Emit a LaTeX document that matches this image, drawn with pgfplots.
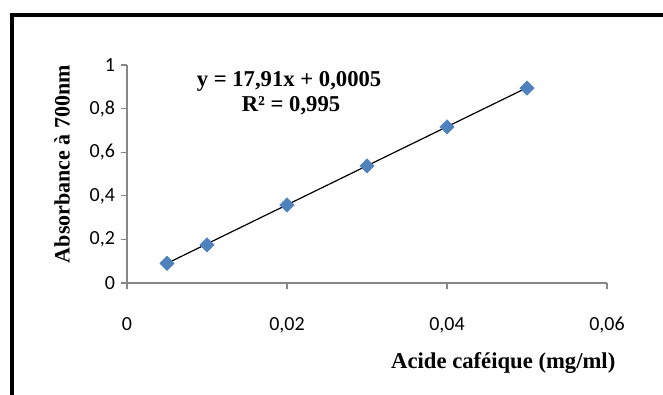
\documentclass[border=0pt]{standalone}
\usepackage{pgfplots}
\pgfplotsset{compat=1.18}
\usepackage{fontspec}
\setmainfont{Liberation Serif}
\newfontfamily\tickfont{Carlito}
\definecolor{mk}{HTML}{4F81BD}
\definecolor{ax}{HTML}{878787}
\begin{document}
\begin{tikzpicture}
\useasboundingbox (0,0) rectangle (497.25pt,295.5pt);
\fill[white] (0,0) rectangle (497.25pt,295.5pt);
\draw[line width=2.6pt] (9pt,-2pt) -- (9pt,284.25pt) -- (500pt,284.25pt);
\begin{axis}[
  at={(95.25pt,83.25pt)}, anchor=south west,
  scale only axis, width=360pt, height=163.5pt,
  xmin=0, xmax=0.06, ymin=0, ymax=1,
  scaled x ticks=false, scaled y ticks=false,
  axis lines*=left,
  axis line style={ax, line width=1.1pt},
  tick align=outside,
  major tick length=4.5pt,
  tick style={ax, line width=0.8pt},
  xtick={0,0.02,0.04,0.06}, xticklabels={0,{0,02},{0,04},{0,06}},
  ytick={0,0.2,0.4,0.6,0.8,1}, yticklabels={0,{0,2},{0,4},{0,6},{0,8},1},
  tick label style={font=\tickfont\fontsize{15}{17}\selectfont},
  xticklabel style={yshift=-17.5pt},
  yticklabel style={xshift=-1pt},
  clip=false,
]
\addplot[black, line width=0.9pt] coordinates {(0.005,0.09005) (0.05,0.896)};
\addplot[only marks, mark=square*, mark size=3.8pt, mark options={rotate=45, fill=mk, draw=mk}] coordinates {
(0.005,0.09) (0.01,0.175) (0.02,0.358) (0.03,0.537) (0.04,0.716) (0.05,0.894)};
\end{axis}
\node[font=\bfseries\fontsize{17}{20}\selectfont] at (216.75pt,234.75pt) {y = 17,91x + 0,0005};
\node[font=\bfseries\fontsize{17}{20}\selectfont] at (218.25pt,216pt) {R² = 0,995};
\node[font=\bfseries\fontsize{17}{20}\selectfont, anchor=east] at (465pt,23.25pt) {Acide caféique (mg/ml)};
\node[font=\bfseries\fontsize{16.5}{20}\selectfont, rotate=90] at (46.5pt,172.5pt) {Absorbance à 700nm};
\end{tikzpicture}
\end{document}
